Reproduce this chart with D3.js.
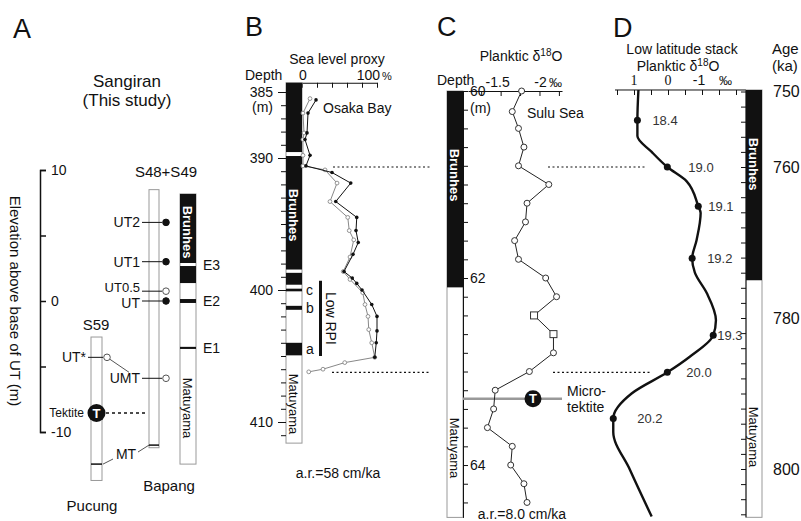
<!DOCTYPE html>
<html>
<head>
<meta charset="utf-8">
<script src="https://cdn.jsdelivr.net/npm/d3@7"></script>
<style>
    body { margin: 0; background: #fff; }
    svg { display: block; font-family: "Liberation Sans", Arial, sans-serif; }
    text { fill: #111; }
</style>
</head>
<body>
<div id="chart"></div>
<script>
// ---------- Panel A: Sangiran sections, elevation above base of UT (m) ----------
const bapangMarkers = [
    { name: "UT2", elev: 6.0, filled: true },
    { name: "UT1", elev: 3.0, filled: true },
    { name: "UT0.5", elev: 0.75, filled: false },
    { name: "UT", elev: 0, filled: true },
    { name: "UMT", elev: -5.9, filled: false }
];
const bapangRange = [8.5, -11.2];
const bapangMT = -11.0;
const pucungRange = [-2.75, -13.7];
const pucungUTstar = -4.3;
const pucungTektite = -8.55;
const pucungMT = -12.45;
const sangiranRange = [8.17, -12.45];
const sangiranNormal = [[8.17, 2.9], [2.67, 1.37], [0.15, -0.15], [-3.5, -3.66]];
const sangiranExcursions = [
    { name: "E3", elev: 2.75 },
    { name: "E2", elev: 0 },
    { name: "E1", elev: -3.6 }
];

// ---------- Panel B: Osaka Bay, sea level proxy (%) vs depth (m) ----------
const osakaRange = [384.3, 411.6];
const osakaNormal = [[384.3, 389.55], [389.85, 398.45], [398.7, 399.6], [399.9, 400.1], [401.2, 401.5], [404.0, 404.95]];
const osakaEvents = [{ name: "c", depth: 400.0 }, { name: "b", depth: 401.35 }, { name: "a", depth: 404.5 }];
const lowRPI = [399.3, 405.0];
const seaLevelDepthA = [385.6, 386.6, 388.1, 388.6, 389.8, 390.6, 391.1, 391.9, 393.3, 394.5, 395.5, 396.4, 397.3, 398.6, 399.1, 399.5, 400.0, 401.1, 402.0, 403.1, 404.0, 405.1];
const seaLevelA = [18.7, 8, 6.7, 4, 10.7, 5.3, 40, 65, 45, 73, 72, 75, 68, 56, 67, 73, 80, 93, 100, 100, 99, 97];
const seaLevelDepthB = [385.5, 386.6, 388.1, 388.6, 389.8, 390.6, 390.9, 391.9, 393.3, 394.5, 395.5, 396.2, 397.5, 398.6, 399.2, 400.2, 401.1, 402.0, 403.0, 404.0, 405.1, 405.5, 406.0, 406.2];
const seaLevelB = [10.7, 1.3, 2.7, 1.3, 1.3, 1.3, 30.7, 46.7, 37.3, 61, 63, 69, 64, 55, 64, 81, 84, 88, 89, 93, 97, 57, 28, 9];

// ---------- Panel C: Sulu Sea planktic d18O (permil) vs depth (m) ----------
const suluRange = [60.0, 64.56];
const suluNormal = [[60.0, 62.1]];
const suluDepth = [60.0, 60.22, 60.4, 60.6, 60.8, 61.0, 61.2, 61.4, 61.6, 61.8, 62.0, 62.2, 62.4, 62.6, 62.8, 63.0, 63.2, 63.4, 63.6, 63.8, 64.0, 64.2, 64.4];
const suluD18O = [-1.77, -1.65, -1.73, -1.80, -1.73, -2.12, -1.84, -1.82, -1.68, -1.73, -2.08, -2.22, -1.93, -2.18, -2.18, -1.87, -1.43, -1.41, -1.33, -1.65, -1.63, -1.80, -1.84];
const suluSquareDepths = [62.4, 62.6];
const microtektiteDepth = 63.29;

// ---------- Panel D: low latitude stack planktic d18O vs age (ka) ----------
const stackRange = [749.8, 806.4];
const stackNormal = [[749.8, 775.0]];
const stackAge = [749.8, 753.8, 755.9, 758.0, 760.0, 761.9, 765.2, 766.1, 769.7, 772.1, 774.0, 776.7, 780.3, 782.3, 785.1, 787.2, 790.0, 793.3, 795.1, 800.1, 806.3];
const stackD18O = [0.87, 0.90, 0.90, 0.48, 0.02, -0.55, -0.89, -0.96, -0.84, -0.71, -0.79, -1.14, -1.41, -1.33, -0.65, 0.02, 1.07, 1.61, 1.61, 1.12, 0.48];
const misAges = [753.8, 760.0, 765.2, 772.1, 782.3, 787.2, 793.3];
const misLabels = ["18.4", "19.0", "19.1", "19.2", "19.3", "20.0", "20.2"];
const ageLabels = [750, 760, 780, 800];
const tieAges = [760.0, 787.2];

const ink = "#111", grey = "#999", darkGrey = "#555";

const svg = d3.select("#chart").append("svg")
    .attr("width", 801)
    .attr("height", 521);

function addText(g, x, y, str, o = {}) {
    const t = g.append("text")
        .attr("x", x).attr("y", y)
        .attr("text-anchor", o.anchor || "start")
        .style("font-size", (o.size || 14) + "px")
        .text(str);
    if (o.dy) t.attr("dy", o.dy);
    if (o.fill) t.style("fill", o.fill);
    if (o.weight) t.style("font-weight", o.weight);
    if (o.family) t.style("font-family", o.family);
    if (o.rotate) t.attr("transform", `rotate(${o.rotate},${x},${y})`);
    return t;
}

function polarityColumn(g, y, x, w, range, normals) {
    g.append("rect")
        .attr("x", x).attr("y", y(range[0]))
        .attr("width", w).attr("height", y(range[1]) - y(range[0]))
        .attr("fill", "#fff").attr("stroke", grey);
    g.selectAll(null).data(normals).join("rect")
        .attr("x", x).attr("y", d => y(d[0]))
        .attr("width", w).attr("height", d => y(d[1]) - y(d[0]))
        .attr("fill", ink);
}

function tektiteMark(g, cx, cy, r) {
    g.append("circle").attr("cx", cx).attr("cy", cy).attr("r", r).attr("fill", ink);
    addText(g, cx, cy, "T", { anchor: "middle", dy: "0.36em", size: 13, weight: "bold", fill: "#fff" });
}

function delta18O(g, x, y, prefix) {
    const t = g.append("text").attr("x", x).attr("y", y)
        .attr("text-anchor", "middle").style("font-size", "14px");
    t.append("tspan").text(prefix + "\u03b4");
    t.append("tspan").attr("dy", -5).style("font-size", "10px").text("18");
    t.append("tspan").attr("dy", 5).text("O");
}

function styleAxis(g, size) {
    g.attr("font-family", null).attr("font-size", size).style("color", ink);
}

// ================= Panel A =================
const yA = d3.scaleLinear().domain([10, -10]).range([170, 432]);
const gA = svg.append("g");

addText(gA, 13, 38, "A", { size: 27 });
addText(gA, 127, 87, "Sangiran", { anchor: "middle", size: 17 });
addText(gA, 127, 106, "(This study)", { anchor: "middle", size: 17 });

gA.append("g")
    .attr("transform", "translate(40,0)")
    .call(d3.axisRight(yA).tickValues([10, 5, 0, -5, -10]).tickSize(6).tickSizeOuter(6)
        .tickPadding(5).tickFormat(d => d % 10 === 0 ? d : ""))
    .call(g => styleAxis(g, 14))
    .call(g => g.selectAll("path, line").attr("stroke-width", 1.5));

addText(gA, 15, 301, "Elevation above base of UT (m)", { anchor: "middle", dy: "0.35em", size: 15, rotate: 90 });

// Bapang (S48+S49)
addText(gA, 166, 177, "S48+S49", { anchor: "middle", size: 15 });
gA.append("rect")
    .attr("x", 149).attr("y", yA(bapangRange[0]))
    .attr("width", 10).attr("height", yA(bapangRange[1]) - yA(bapangRange[0]))
    .attr("fill", "#fff").attr("stroke", grey);
gA.append("line")
    .attr("x1", 149).attr("x2", 159).attr("y1", yA(bapangMT)).attr("y2", yA(bapangMT))
    .attr("stroke", ink).attr("stroke-width", 1.5);
gA.selectAll(".bmk-line").data(bapangMarkers).join("line")
    .attr("x1", 142).attr("x2", 162)
    .attr("y1", d => yA(d.elev)).attr("y2", d => yA(d.elev))
    .attr("stroke", ink);
gA.selectAll(".bmk-dot").data(bapangMarkers).join("circle")
    .attr("cx", 166).attr("cy", d => yA(d.elev)).attr("r", 3.3)
    .attr("fill", d => d.filled ? ink : "#fff")
    .attr("stroke", d => d.filled ? ink : darkGrey);
// UT0.5 and UT sit close together, so their labels are nudged apart
bapangMarkers.forEach(d => {
    const nudge = d.name === "UT0.5" ? -4 : (d.name === "UT" ? 2 : 0);
    addText(gA, 140, yA(d.elev) + nudge, d.name, { anchor: "end", dy: "0.36em", size: d.name === "UT0.5" ? 13 : 14 });
});
addText(gA, 169, 491, "Bapang", { anchor: "middle", size: 15 });

// Pucung (S59)
addText(gA, 96, 330, "S59", { anchor: "middle", size: 15 });
gA.append("rect")
    .attr("x", 91).attr("y", yA(pucungRange[0]))
    .attr("width", 11).attr("height", yA(pucungRange[1]) - yA(pucungRange[0]))
    .attr("fill", "#fff").attr("stroke", grey);
gA.append("line")
    .attr("x1", 91).attr("x2", 102).attr("y1", yA(pucungMT)).attr("y2", yA(pucungMT))
    .attr("stroke", ink).attr("stroke-width", 1.5);
gA.append("line")
    .attr("x1", 88).attr("x2", 103).attr("y1", yA(pucungUTstar)).attr("y2", yA(pucungUTstar))
    .attr("stroke", ink);
gA.append("circle")
    .attr("cx", 107).attr("cy", yA(pucungUTstar)).attr("r", 3.3)
    .attr("fill", "#fff").attr("stroke", darkGrey);
addText(gA, 86, yA(pucungUTstar), "UT*", { anchor: "end", dy: "0.36em" });
// UT* correlates with UMT
gA.append("line")
    .attr("x1", 110).attr("y1", yA(pucungUTstar) + 2)
    .attr("x2", 129).attr("y2", yA(-5.9) - 6)
    .attr("stroke", darkGrey);

// tektite level
gA.append("line")
    .attr("x1", 106).attr("x2", 147)
    .attr("y1", yA(pucungTektite)).attr("y2", yA(pucungTektite))
    .attr("stroke", ink).attr("stroke-width", 1.3).attr("stroke-dasharray", "3,3");
tektiteMark(gA, 96.5, yA(pucungTektite), 9);
addText(gA, 84, yA(pucungTektite), "Tektite", { anchor: "end", dy: "0.36em", size: 12 });

// MT correlation
addText(gA, 126, 459, "MT", { anchor: "middle" });
gA.append("line").attr("x1", 103).attr("y1", yA(pucungMT)).attr("x2", 113).attr("y2", 459)
    .attr("stroke", darkGrey);
gA.append("line").attr("x1", 138).attr("y1", 452).attr("x2", 149).attr("y2", yA(bapangMT))
    .attr("stroke", darkGrey);
addText(gA, 92, 511, "Pucung", { anchor: "middle", size: 15 });

// polarity
polarityColumn(gA, yA, 180, 16, sangiranRange, sangiranNormal);
addText(gA, 188, 232, "Brunhes", { anchor: "middle", dy: "0.35em", size: 13, weight: "bold", fill: "#fff", rotate: 90 });
addText(gA, 188, 408, "Matuyama", { anchor: "middle", dy: "0.35em", size: 13, rotate: 90 });
sangiranExcursions.forEach(d => addText(gA, 203, yA(d.elev), d.name, { dy: "0.36em" }));

// ================= Panel B =================
const yB = d3.scaleLinear().domain([400, 410]).range([290, 422]);
const xB = d3.scaleLinear().domain([0, 100]).range([302, 377]);
const gB = svg.append("g");

addText(gB, 245, 36, "B", { size: 27 });
addText(gB, 337, 64, "Sea level proxy", { anchor: "middle" });
addText(gB, 245, 80, "Depth");
addText(gB, xB(0) + 1, 80, "0", { anchor: "middle" });
addText(gB, xB(100) + 3, 80, "100", { anchor: "end" });
addText(gB, xB(100) + 5, 80, "%", { size: 11 });

gB.append("g")
    .attr("transform", `translate(0,${yB(384.3)})`)
    .call(d3.axisBottom(xB).tickValues([0, 20, 40, 60, 80, 100]).tickSize(5).tickSizeOuter(0).tickFormat(""))
    .call(g => styleAxis(g, 14));

polarityColumn(gB, yB, 286, 16, osakaRange, osakaNormal);

const labelledB = [385, 390, 400, 410];
gB.append("g")
    .attr("transform", "translate(286,0)")
    .call(d3.axisLeft(yB).tickValues(d3.range(385, 412)).tickSize(5).tickPadding(8)
        .tickFormat(d => labelledB.includes(d) ? d : ""))
    .call(g => styleAxis(g, 14))
    .call(g => g.select(".domain").remove())
    .call(g => g.selectAll(".tick line").attr("x2", d => labelledB.includes(d) ? -8 : -5));
addText(gB, 273, 112, "(m)", { anchor: "end" });

addText(gB, 294, 215, "Brunhes", { anchor: "middle", dy: "0.35em", size: 13, weight: "bold", fill: "#fff", rotate: 90 });
addText(gB, 294, 404, "Matuyama", { anchor: "middle", dy: "0.35em", size: 13, rotate: 90 });
osakaEvents.forEach(d => addText(gB, 306, yB(d.depth), d.name, { dy: "0.36em" }));

gB.append("rect")
    .attr("x", 319).attr("y", yB(lowRPI[0]))
    .attr("width", 3).attr("height", yB(lowRPI[1]) - yB(lowRPI[0]))
    .attr("fill", ink);
addText(gB, 331, (yB(lowRPI[0]) + yB(lowRPI[1])) / 2, "Low RPI", { anchor: "middle", dy: "0.35em", rotate: 90 });

const seaA = seaLevelDepthA.map((d, i) => ({ depth: d, v: seaLevelA[i] }));
const seaB = seaLevelDepthB.map((d, i) => ({ depth: d, v: seaLevelB[i] }));
const lineB = d3.line().x(d => xB(d.v)).y(d => yB(d.depth));

gB.append("path").datum(seaB).attr("d", lineB)
    .attr("fill", "none").attr("stroke", "#888").attr("stroke-width", 1);
gB.selectAll(".seaB").data(seaB).join("circle")
    .attr("cx", d => xB(d.v)).attr("cy", d => yB(d.depth)).attr("r", 1.9)
    .attr("fill", "#fff").attr("stroke", "#888").attr("stroke-width", 0.9);
gB.append("path").datum(seaA).attr("d", lineB)
    .attr("fill", "none").attr("stroke", ink).attr("stroke-width", 1);
gB.selectAll(".seaA").data(seaA).join("circle")
    .attr("cx", d => xB(d.v)).attr("cy", d => yB(d.depth)).attr("r", 1.8)
    .attr("fill", ink);

addText(gB, 323, 113, "Osaka Bay");
addText(gB, 338, 478, "a.r.=58 cm/ka", { anchor: "middle" });

// ================= Panel C =================
const yC = d3.scaleLinear().domain([60, 64.56]).range([91, 517.4]);
const xC = d3.scaleLinear().domain([-1.08, -2.29]).range([468, 562]);
const gC = svg.append("g");

addText(gC, 437, 36, "C", { size: 27 });
delta18O(gC, 521, 61, "Planktic ");
addText(gC, 437, 85, "Depth");
addText(gC, xC(-1.5) - 3, 87, "-1.5", { anchor: "middle" });
addText(gC, xC(-2) + 1, 87, "-2", { anchor: "middle" });
addText(gC, 549, 87, "\u2030", { size: 13 });

gC.append("g")
    .attr("transform", `translate(0,${yC(60)})`)
    .call(d3.axisBottom(xC).tickValues([-1.25, -1.5, -1.75, -2, -2.25]).tickSize(5).tickSizeOuter(0).tickFormat(""))
    .call(g => styleAxis(g, 14));

polarityColumn(gC, yC, 447, 16, suluRange, suluNormal);
gC.append("g")
    .attr("transform", "translate(463,0)")
    .call(d3.axisRight(yC).tickValues(d3.range(0, 23).map(i => 60 + i * 0.2)).tickSize(5).tickSizeOuter(0)
        .tickPadding(2).tickFormat(d => Math.abs(d - Math.round(d)) < 1e-6 && Math.round(d) % 2 === 0 ? Math.round(d) : ""))
    .call(g => styleAxis(g, 14));
addText(gC, 470, 113, "(m)");
addText(gC, 455, 175, "Brunhes", { anchor: "middle", dy: "0.35em", size: 13, weight: "bold", fill: "#fff", rotate: 90 });
addText(gC, 455, 448, "Matuyama", { anchor: "middle", dy: "0.35em", size: 13, rotate: 90 });

// microtektite horizon
const yMT = yC(microtektiteDepth);
gC.append("line").attr("x1", 463).attr("x2", 562).attr("y1", yMT).attr("y2", yMT)
    .attr("stroke", grey).attr("stroke-width", 2.5);

const sulu = suluDepth.map((d, i) => ({ depth: d, v: suluD18O[i] }));
gC.append("path").datum(sulu)
    .attr("d", d3.line().x(d => xC(d.v)).y(d => yC(d.depth)))
    .attr("fill", "none").attr("stroke", "#222").attr("stroke-width", 1);
gC.selectAll(".suluDot").data(sulu.filter(d => !suluSquareDepths.includes(d.depth))).join("circle")
    .attr("cx", d => xC(d.v)).attr("cy", d => yC(d.depth)).attr("r", 3)
    .attr("fill", "#fff").attr("stroke", "#333");
gC.selectAll(".suluSq").data(sulu.filter(d => suluSquareDepths.includes(d.depth))).join("rect")
    .attr("x", d => xC(d.v) - 3.5).attr("y", d => yC(d.depth) - 3.5)
    .attr("width", 7).attr("height", 7)
    .attr("fill", "#fff").attr("stroke", "#333");

tektiteMark(gC, 533, yMT, 8.5);
addText(gC, 567, yMT - 3, "Micro-");
addText(gC, 567, yMT + 13, "tektite");
addText(gC, 527, 118, "Sulu Sea");
addText(gC, 522, 519, "a.r.=8.0 cm/ka", { anchor: "middle" });

// ================= Panel D =================
const yD = d3.scaleLinear().domain([760, 780]).range([167, 318]);
const xD = d3.scaleLinear().domain([1, -1]).range([634, 702]);
const gD = svg.append("g");

addText(gD, 613, 37, "D", { size: 27 });
addText(gD, 682, 54, "Low latitude stack", { anchor: "middle" });
delta18O(gD, 678, 71, "Planktic ");
addText(gD, xD(1), 85, "1", { anchor: "middle", family: "Liberation Serif, serif" });
addText(gD, xD(0), 85, "0", { anchor: "middle", family: "Liberation Serif, serif" });
addText(gD, xD(-1) - 3, 85, "-1", { anchor: "middle" });
addText(gD, 719, 85, "\u2030", { size: 13 });

const topD = yD(stackRange[0]);
gD.append("line").attr("x1", 615).attr("x2", 746).attr("y1", topD).attr("y2", topD).attr("stroke", ink);
gD.append("g")
    .attr("transform", `translate(0,${topD})`)
    .call(d3.axisBottom(xD).tickValues([1.5, 1, 0.5, 0, -0.5, -1, -1.5, -2]).tickSize(5).tickSizeOuter(0).tickFormat(""))
    .call(g => styleAxis(g, 14))
    .call(g => g.select(".domain").remove());

polarityColumn(gD, yD, 746, 16, stackRange, stackNormal);
gD.append("g")
    .attr("transform", "translate(746,0)")
    .call(d3.axisLeft(yD).tickValues(d3.range(750, 807, 2)).tickSize(5).tickFormat(""))
    .call(g => styleAxis(g, 14))
    .call(g => g.select(".domain").remove());
gD.append("line").attr("x1", 746).attr("x2", 746)
    .attr("y1", yD(stackRange[0])).attr("y2", yD(stackRange[1])).attr("stroke", ink);

addText(gD, 754, 164, "Brunhes", { anchor: "middle", dy: "0.35em", size: 13, weight: "bold", fill: "#fff", rotate: 90 });
addText(gD, 754, 437, "Matuyama", { anchor: "middle", dy: "0.35em", size: 13, rotate: 90 });

addText(gD, 772, 54, "Age", { size: 15 });
addText(gD, 772, 71, "(ka)", { size: 15 });
ageLabels.forEach(a => addText(gD, 773, yD(a), a, { dy: "0.36em", size: 16 }));

const stack = stackAge.map((a, i) => ({ age: a, v: stackD18O[i] }));
gD.append("path").datum(stack)
    .attr("d", d3.line().x(d => xD(d.v)).y(d => yD(d.age)).curve(d3.curveMonotoneY))
    .attr("fill", "none").attr("stroke", ink).attr("stroke-width", 2.4);

const misLabelDx = [15, 21, 10, 15, 4, 19, 24];
const mis = misAges.map((a, i) => ({ age: a, v: stackD18O[stackAge.indexOf(a)], label: misLabels[i], dx: misLabelDx[i] }));
gD.selectAll(".mis").data(mis).join("circle")
    .attr("cx", d => xD(d.v)).attr("cy", d => yD(d.age)).attr("r", 3.5)
    .attr("fill", ink);
mis.forEach(d => addText(gD, xD(d.v) + d.dx, yD(d.age), d.label, { dy: "0.36em", size: 13, fill: "#333" }));

// ================= tie lines (dotted) =================
const tieSegments = [[[333, 430], [548, 647]], [[332, 430], [553, 652]]];
tieAges.forEach((a, i) => {
    tieSegments[i].forEach(s => {
        svg.append("line")
            .attr("x1", s[0]).attr("x2", s[1])
            .attr("y1", yD(a)).attr("y2", yD(a))
            .attr("stroke", ink).attr("stroke-width", 1.2).attr("stroke-dasharray", "2,2.5");
    });
});
</script>
</body>
</html>
